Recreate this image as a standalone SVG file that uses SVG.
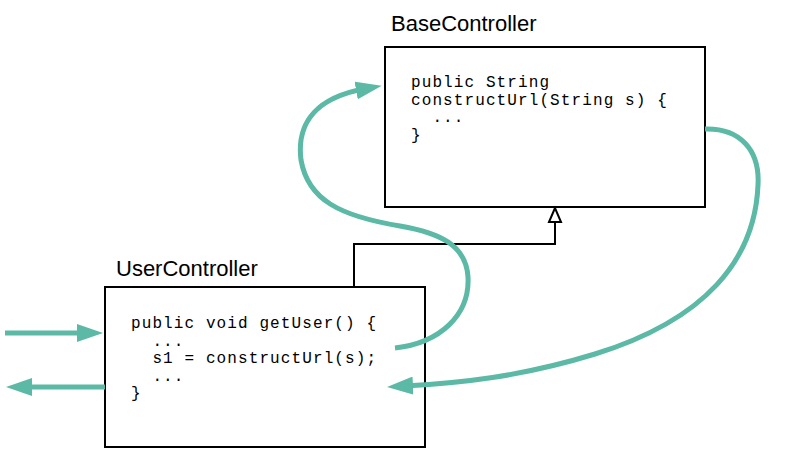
<svg xmlns="http://www.w3.org/2000/svg" width="799" height="468" viewBox="0 0 799 468">
<style>
.box{fill:#fff;stroke:#000;stroke-width:2}
.title{font-family:"Liberation Sans",Arial,sans-serif;font-size:22px;fill:#000}
.code{font-family:"Liberation Mono","Courier New",monospace;font-size:16px;letter-spacing:1.1px;fill:#000;white-space:pre}
.flow{fill:none;stroke:#5bb9a5;stroke-width:5}
.inh{fill:none;stroke:#000;stroke-width:2}
</style>
<defs>
<marker id="ah" viewBox="0 0 26 18" markerWidth="26" markerHeight="18" refX="8" refY="9" orient="auto" markerUnits="userSpaceOnUse">
<path d="M0,0 L26,9 L0,18 z" fill="#5bb9a5"/>
</marker>
</defs>
<g id="BaseController">
<rect class="box" x="385" y="47" width="320" height="160"/>
<text class="title" x="391" y="31">BaseController</text>
<text class="code" x="411" y="87">public String</text>
<text class="code" x="411" y="104.5">constructUrl(String s) {</text>
<text class="code" x="411" y="122" xml:space="preserve">  ...</text>
<text class="code" x="411" y="139.5">}</text>
</g>
<g id="UserController">
<rect class="box" x="105" y="287" width="320" height="160"/>
<text class="title" x="116" y="276">UserController</text>
<text class="code" x="131" y="328">public void getUser() {</text>
<text class="code" x="131" y="345.5" xml:space="preserve">  ...</text>
<text class="code" x="131" y="363" xml:space="preserve">  s1 = constructUrl(s);</text>
<text class="code" x="131" y="380.5" xml:space="preserve">  ...</text>
<text class="code" x="131" y="398">}</text>
</g>
<g id="connectors">
<path class="inh" d="M354,287 V244 H555 V222"/>
<path d="M555,208 L549,222 H561 Z" fill="#fff" stroke="#000" stroke-width="2" stroke-linejoin="miter"/>
<path class="flow" d="M5,333 L85,333" marker-end="url(#ah)"/>
<path class="flow" d="M105,387 L24,387" marker-end="url(#ah)"/>
<path class="flow" d="M395,348 C440,343 470,315 468,277 C466,245 440,233 400,226 C340,216 308,200 301,160 C296,120 320,97 364,89" marker-end="url(#ah)"/>
<path class="flow" d="M705,129 C740,128 760,150 758,185 C755,260 705,320 595,354 C520,377 460,383 405,386" marker-end="url(#ah)"/>
</g>
</svg>
